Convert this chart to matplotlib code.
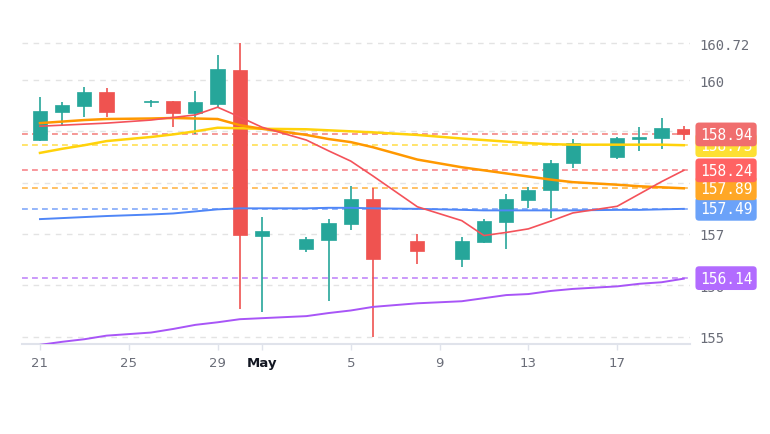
import matplotlib
matplotlib.use('Agg')
import matplotlib.pyplot as plt
import matplotlib.transforms as mtransforms
import numpy as np
import pandas as pd

# candle dates (calendar gaps are kept on the time axis)
dates = ['2024-04-21', '2024-04-22', '2024-04-23', '2024-04-24', '2024-04-26',
         '2024-04-27', '2024-04-28', '2024-04-29', '2024-04-30', '2024-05-01',
         '2024-05-03', '2024-05-04', '2024-05-05', '2024-05-06', '2024-05-08',
         '2024-05-10', '2024-05-11', '2024-05-12', '2024-05-13', '2024-05-14',
         '2024-05-15', '2024-05-17', '2024-05-18', '2024-05-19', '2024-05-20']

opens = [158.83, 159.38, 159.49, 159.77, 159.57, 159.59, 159.36, 159.53, 160.19, 156.96,
         156.71, 156.88, 157.19, 157.68, 156.86, 156.51, 156.84, 157.23, 157.66, 157.86,
         158.38, 158.50, 158.86, 158.87, 159.04]
highs = [159.67, 159.57, 159.86, 159.84, 159.61, 159.59, 159.79, 160.49, 160.72, 157.33,
         156.94, 157.29, 157.94, 157.90, 157.00, 156.94, 157.29, 157.78, 157.92, 158.44,
         158.85, 158.89, 159.08, 159.26, 159.10]
lows = [158.81, 159.10, 159.28, 159.28, 159.47, 159.08, 158.95, 159.45, 155.54, 155.48,
        156.65, 155.69, 157.08, 154.99, 156.42, 156.36, 156.82, 156.71, 157.51, 157.31,
        158.29, 158.46, 158.62, 158.66, 158.83]
closes = [159.40, 159.51, 159.77, 159.38, 159.59, 159.36, 159.57, 160.21, 156.98, 157.06,
          156.90, 157.21, 157.68, 156.51, 156.67, 156.86, 157.25, 157.68, 157.86, 158.38,
          158.77, 158.87, 158.87, 159.06, 158.94]

# moving average lines
ma_red = [159.10, 159.12, 159.14, 159.16, 159.22, 159.27, 159.32, 159.47, 159.28, 159.08,
          158.83, 158.62, 158.42, 158.13, 157.53, 157.26, 156.97, 157.03, 157.10, 157.25,
          157.41, 157.54, 157.78, 158.02, 158.24]
ma_orange = [159.16, 159.19, 159.22, 159.24, 159.25, 159.26, 159.25, 159.24, 159.12, 159.05,
             158.93, 158.85, 158.79, 158.69, 158.45, 158.30, 158.24, 158.18, 158.12, 158.06,
             158.01, 157.96, 157.93, 157.91, 157.89]
ma_yellow = [158.58, 158.66, 158.73, 158.81, 158.89, 158.94, 159.00, 159.07, 159.06, 159.05,
             159.04, 159.02, 159.00, 158.98, 158.93, 158.86, 158.83, 158.80, 158.77, 158.75,
             158.74, 158.74, 158.74, 158.74, 158.73]
ma_blue = [157.29, 157.31, 157.33, 157.35, 157.38, 157.40, 157.44, 157.48, 157.50, 157.50,
           157.50, 157.51, 157.51, 157.50, 157.49, 157.47, 157.46, 157.46, 157.46, 157.46,
           157.46, 157.47, 157.47, 157.48, 157.49]
ma_purple = [154.84, 154.90, 154.95, 155.02, 155.08, 155.15, 155.23, 155.28, 155.34, 155.36,
             155.40, 155.46, 155.51, 155.58, 155.65, 155.69, 155.75, 155.81, 155.83, 155.89,
             155.93, 155.98, 156.03, 156.06, 156.13]

price_ticks = [155, 156, 157, 158, 159, 160, 160.72]
price_tick_labels = ['155', '156', '157', '158', '159', '160', '160.72']
date_ticks = ['2024-04-21', '2024-04-25', '2024-04-29', '2024-05-01',
              '2024-05-05', '2024-05-09', '2024-05-13', '2024-05-17']
date_tick_labels = ['21', '25', '29', 'May', '5', '9', '13', '17']

UP = '#26a69a'
DOWN = '#ef5350'

t0 = pd.Timestamp(dates[0])
x = np.array([(pd.Timestamp(d) - t0).days for d in dates])
xt = [(pd.Timestamp(d) - t0).days for d in date_ticks]
o, h, l, c = map(np.array, (opens, highs, lows, closes))

fig = plt.figure(figsize=(7.7, 4.35), dpi=100)
ax = fig.add_axes([22 / 770, 90 / 435, 668 / 770, 345 / 435])
ax.set_xlim(-0.81, 29.28)
ax.set_ylim(154.857, 161.578)

# grid
ax.set_yticks(price_ticks)
ax.set_yticklabels(price_tick_labels)
ax.grid(axis='y', color='#e3e3e3', linestyle=(0, (4, 4)), linewidth=1)
ax.set_axisbelow(True)

# candles
colors = np.where(c >= o, UP, DOWN)
ax.vlines(x, l, h, colors=colors, linewidth=1.2, zorder=2)
body_lo = np.minimum(o, c)
body_h = np.maximum(np.abs(c - o), 0.03)
ax.bar(x, body_h, bottom=body_lo, width=0.64, color=colors, edgecolor=colors,
       linewidth=0.5, zorder=3)

# moving averages
ax.plot(x, ma_purple, color='#a855f7', linewidth=1.4, zorder=4)
ax.plot(x, ma_blue, color='#4f86f7', linewidth=1.4, zorder=4)
ax.plot(x, ma_yellow, color='#ffd20a', linewidth=1.8, zorder=4)
ax.plot(x, ma_orange, color='#ff9800', linewidth=1.8, zorder=4)
ax.plot(x, ma_red, color='#f4525a', linewidth=1.2, zorder=4)

# price lines + badges on the right scale
price_lines = [
    (ma_purple[-1] + 0.01, '#a855f7', '#b26bff'),
    (ma_blue[-1], '#4f86f7', '#6ba2f9'),
    (ma_orange[-1], '#ff9800', '#ffa726'),
    (ma_red[-1], '#f4525a', '#ff6363'),
    (ma_yellow[-1], '#ffd20a', '#fde033'),
    (closes[-1], DOWN, '#f06e6e'),
]
trans = mtransforms.blended_transform_factory(ax.transAxes, ax.transData)
for i, (val, lc, bc) in enumerate(price_lines):
    ax.axhline(val, color=lc, alpha=0.7, linestyle=(0, (3.5, 2.5)), linewidth=1.2, zorder=1)
    ax.text(1.054, val, f'{val:.2f}', transform=trans, ha='center', va='center',
            color='white', fontsize=10.5, family='DejaVu Sans Mono', clip_on=False,
            zorder=10 + i,
            bbox=dict(boxstyle='round,pad=0.3,rounding_size=0.25', fc=bc, ec='none'))

# axes styling
for s in ['top', 'left', 'right']:
    ax.spines[s].set_visible(False)
ax.spines['bottom'].set_color('#e0e3eb')
ax.spines['bottom'].set_linewidth(1.5)
ax.yaxis.tick_right()
ax.tick_params(axis='y', length=0, pad=7, labelsize=10, labelcolor='#6a6d78')
for t in ax.get_yticklabels():
    t.set_family('DejaVu Sans Mono')

ax.set_xticks(xt)
ax.set_xticklabels(date_tick_labels)
ax.tick_params(axis='x', length=4, width=1, color='#e0e3eb', pad=5,
               labelsize=9.5, labelcolor='#6a6d78')
for t in ax.get_xticklabels():
    if t.get_text() == 'May':
        t.set_fontweight('bold')
        t.set_color('#131722')

fig.savefig('out.png', dpi=100)
